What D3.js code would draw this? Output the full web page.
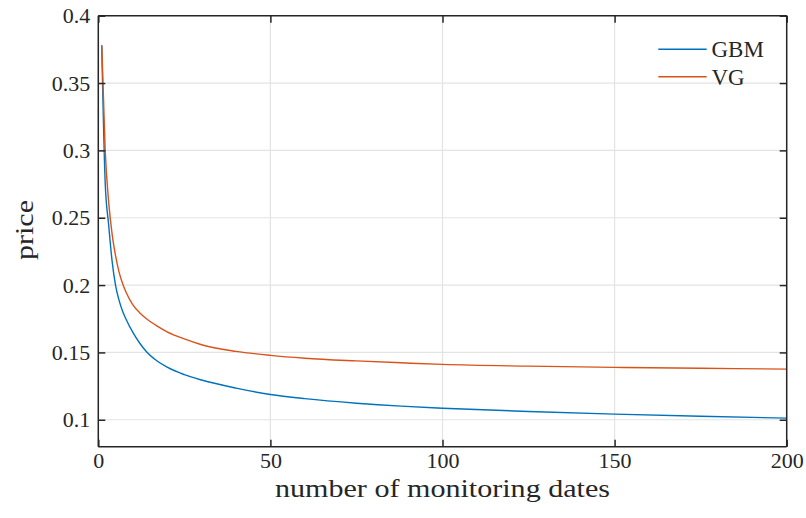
<!DOCTYPE html>
<html><head><meta charset="utf-8">
<script src="https://cdn.jsdelivr.net/npm/d3@7"></script>
<style>body{margin:0;background:#fff}svg{display:block}text{font-family:"Liberation Serif","DejaVu Serif",serif;fill:#262626}</style>
</head><body>
<svg id="c" width="806" height="518"></svg>
<script>
const nDates = [1,2,3,4,5,6,7,8,10,12,14,17,20,25,30,40,50,60,75,88,100,125,150,175,200];
const gbm = [0.378,0.276,0.245,0.218,0.200,0.189,0.181,0.175,0.165,0.157,0.1505,0.1438,0.1390,0.1335,0.1295,0.1235,0.1188,0.1157,0.1123,0.1101,0.1086,0.1061,0.1042,0.1026,0.1012];
const vg = [0.378,0.300,0.262,0.238,0.222,0.210,0.2015,0.195,0.1855,0.1795,0.1750,0.1697,0.1653,0.1600,0.1557,0.1508,0.1478,0.1457,0.1437,0.1423,0.1411,0.1398,0.1389,0.1382,0.1376];
const xTicks = [0,50,100,150,200];
const yTicks = [0.1,0.15,0.2,0.25,0.3,0.35,0.4];
const seriesNames = ["GBM","VG"];
const colors = ["#0072BD","#D95319"];

const L=98.3,R=786.7,T=15.7,B=446.7;
const svg=d3.select("#c");
const x=d3.scaleLinear().domain([0,200]).range([L,R]);
const y=d3.scaleLinear().domain([0.08,0.4]).range([B,T]);

// grid
svg.append("g").selectAll("line").data(xTicks).join("line")
  .attr("x1",d=>x(d)).attr("x2",d=>x(d)).attr("y1",T).attr("y2",B)
  .attr("stroke","#e3e3e3").attr("stroke-width",1.2);
svg.append("g").selectAll("line").data(yTicks).join("line")
  .attr("x1",L).attr("x2",R).attr("y1",d=>y(d)).attr("y2",d=>y(d))
  .attr("stroke","#e3e3e3").attr("stroke-width",1.2);

// lines
const line=d3.line().x((d,i)=>x(nDates[i])).y(d=>y(d)).curve(d3.curveMonotoneX);
[gbm,vg].forEach((s,k)=>{
  svg.append("path").datum(s).attr("d",line).attr("fill","none")
    .attr("stroke",colors[k]).attr("stroke-width",1.4);
});

// axes
const tk=7;
const axB=d3.axisBottom(x).tickValues(xTicks).tickSize(-tk).tickPadding(6).tickFormat(d3.format("d"));
const axL=d3.axisLeft(y).tickValues(yTicks).tickSize(-tk).tickPadding(8).tickFormat(d=>String(d));
const axT=d3.axisTop(x).tickValues(xTicks).tickSize(-tk).tickFormat("");
const axR=d3.axisRight(y).tickValues(yTicks).tickSize(-tk).tickFormat("");
function style(g){
  g.select(".domain").attr("stroke","#262626").attr("stroke-width",1.5);
  g.selectAll(".tick line").attr("stroke","#262626").attr("stroke-width",1.5);
  g.selectAll(".tick text").attr("fill","#262626").style("font-family",'"Liberation Serif",serif').style("font-size","22px");
}
svg.append("g").attr("transform",`translate(0,${B})`).call(axB).call(style).call(g=>g.select(".domain").attr("d",`M${L},0H${R}`));
svg.append("g").attr("transform",`translate(${L},0)`).call(axL).call(style).call(g=>g.select(".domain").attr("d",`M0,${T}V${B}`));
svg.append("g").attr("transform",`translate(0,${T})`).call(axT).call(style).call(g=>g.select(".domain").attr("d",`M${L},0H${R}`));
svg.append("g").attr("transform",`translate(${R},0)`).call(axR).call(style).call(g=>g.select(".domain").attr("d",`M0,${T}V${B}`));

// labels
svg.append("text").attr("x",(L+R)/2).attr("y",497).attr("text-anchor","middle")
  .attr("textLength",335).attr("lengthAdjust","spacingAndGlyphs")
  .style("font-size","26px").text("number of monitoring dates");
svg.append("text").attr("transform",`translate(32.5,230) rotate(-90)`).attr("text-anchor","middle")
  .attr("textLength",60).attr("lengthAdjust","spacingAndGlyphs")
  .style("font-size","26px").text("price");

// legend
seriesNames.forEach((nm,k)=>{
  const yy=49.3+k*27.4;
  svg.append("line").attr("x1",658.3).attr("x2",706.7).attr("y1",yy).attr("y2",yy)
    .attr("stroke",colors[k]).attr("stroke-width",1.4);
  svg.append("text").attr("x",711.5).attr("y",yy).attr("dy","0.35em")
    .style("font-size","23px").text(nm);
});
</script>
</body></html>
